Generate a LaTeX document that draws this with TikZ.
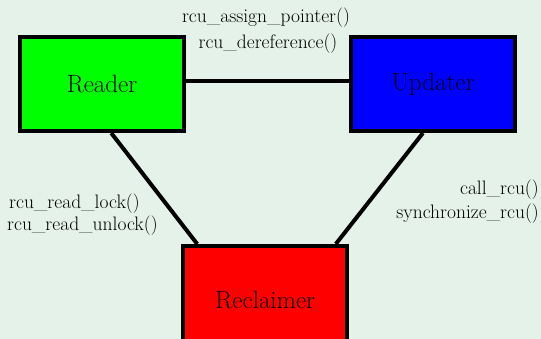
\documentclass[tikz,border=0pt]{standalone}
\usepackage{fontspec}
\usepackage{xcolor}
\usetikzlibrary{calc}
\definecolor{bgrcu}{RGB}{228,242,233}

\begin{document}
\begin{tikzpicture}[x=1pt, y=-1pt,
    box/.style={draw=black, line width=4pt, minimum width=164pt, minimum height=94pt,
                inner sep=0pt, font=\fontsize{25}{28}\selectfont},
    lbl/.style={inner sep=0pt, font=\fontsize{19.5}{22}\selectfont},
    wire/.style={line width=4pt}]
            \fill [bgrcu] (0,0) rectangle (541,339);
            \useasboundingbox (0,0) rectangle (541,339);
            \node [box, fill=green] (reader) at (102,84) {Reader};
            \node [box, fill=blue] (updater) at (433,84) {Updater};
            \node [box, fill=red, minimum height=108pt] (reclaimer) at (265.25,300) {Reclaimer};
            \coordinate (rd) at ($(reader.south west)!0.555!(reader.south east)$);
            \coordinate (ud) at ($(updater.south west)!0.44!(updater.south east)$);
            \coordinate (cl) at ($(reclaimer.north west)!0.095!(reclaimer.north east)$);
            \coordinate (cr) at ($(reclaimer.north west)!0.92!(reclaimer.north east)$);
            \draw [wire] ([yshift=3pt]reader.east) -- ([yshift=3pt]updater.west);
            \draw [wire] (rd) -- (cl);
            \draw [wire] (ud) -- (cr);
            \node [lbl] (assign) at (266,18) {rcu\_assign\_pointer()};
            \node [lbl] (deref) at (268,44) {rcu\_dereference()};
            \node [lbl, anchor=west] (lock) at (9,204) {rcu\_read\_lock()};
            \node [lbl, anchor=west] (unlock) at (7,226) {rcu\_read\_unlock()};
            \node [lbl, anchor=east] (callrcu) at (539,190) {call\_rcu()};
            \node [lbl, anchor=east] (sync) at (539,214) {synchronize\_rcu()};
        \end{tikzpicture}
\end{document}
